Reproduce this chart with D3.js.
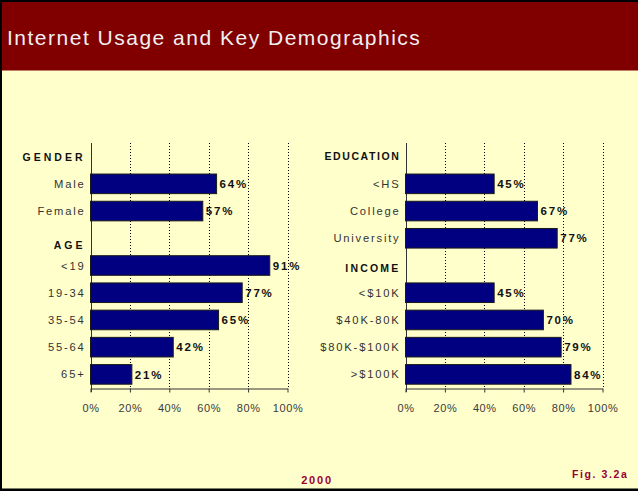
<!DOCTYPE html>
<html>
<head>
<meta charset="utf-8">
<script src="https://cdn.jsdelivr.net/npm/d3@7/dist/d3.min.js"></script>
<style>
  html, body { margin: 0; padding: 0; background: #FFFFCC; }
  svg { display: block; font-family: "Liberation Sans", Arial, Helvetica, sans-serif; }
</style>
</head>
<body>
<svg id="chart" width="638" height="491"></svg>
<script>
// Share of each group using the Internet (%)
const genderCats = ["Male", "Female"];
const genderValues = [64, 57];
const ageCats = ["<19", "19-34", "35-54", "55-64", "65+"];
const ageValues = [91, 77, 65, 42, 21];
const educationCats = ["<HS", "College", "University"];
const educationValues = [45, 67, 77];
const incomeCats = ["<$10K", "$40K-80K", "$80K-$100K", ">$100K"];
const incomeValues = [45, 70, 79, 84];
const tickValues = [0, 20, 40, 60, 80, 100];

const titleText = "Internet Usage and Key Demographics";
const yearText = "2000";
const figText = "Fig. 3.2a";

const W = 638, H = 491;
const svg = d3.select("#chart");

// background and title band
svg.append("rect").attr("width", W).attr("height", H).attr("fill", "#FFFFCC");
svg.append("rect").attr("x", 0).attr("y", 0).attr("width", W).attr("height", 70.5).attr("fill", "#800000");
svg.append("rect").attr("x", 0).attr("y", 0).attr("width", W).attr("height", 2).attr("fill", "#000");
svg.append("rect").attr("x", 0).attr("y", 0).attr("width", 2).attr("height", H).attr("fill", "#000");
svg.append("rect").attr("x", 0).attr("y", H - 2.5).attr("width", W).attr("height", 2.5).attr("fill", "#000");

svg.append("text")
  .attr("x", 7).attr("y", 44.5)
  .attr("fill", "#F0F0F0")
  .attr("font-size", 21)
  .attr("letter-spacing", 1.5)
  .text(titleText);

// build row list for a panel: header rows followed by their categories
function buildRows(groups) {
  const rows = [];
  groups.forEach(g => {
    rows.push({ label: g.header, header: true, nudge: g.nudge, spacing: g.spacing });
    g.cats.forEach((c, i) => rows.push({ label: c, header: false, value: g.values[i] }));
  });
  return rows;
}

function drawPanel(rows, x0, x1) {
  const g = svg.append("g");
  const x = d3.scaleLinear().domain([0, 100]).range([x0, x1]);
  const y = d3.scaleBand()
    .domain(rows.map((r, i) => i))
    .range([143, 388])
    .paddingInner(0.28)
    .paddingOuter(0.14);
  const top = 143, bottom = 388;

  // dotted vertical gridlines
  g.selectAll("line.grid")
    .data(tickValues.filter(t => t > 0))
    .join("line")
    .attr("class", "grid")
    .attr("x1", d => Math.round(x(d)) + 0.5).attr("x2", d => Math.round(x(d)) + 0.5)
    .attr("y1", top).attr("y2", bottom)
    .attr("stroke", "#000")
    .attr("stroke-width", 1)
    .attr("stroke-dasharray", "1,2");

  // bottom axis
  const axis = d3.axisBottom(x)
    .tickValues(tickValues)
    .tickFormat(d => d + "%")
    .tickSize(4)
    .tickSizeOuter(0)
    .tickPadding(12);
  const ax = g.append("g").attr("transform", `translate(0,${bottom + 0.5})`).call(axis);
  ax.select(".domain").attr("stroke", "#333");
  ax.selectAll(".tick line").attr("stroke", "#333");
  ax.selectAll(".tick text")
    .attr("fill", "#3a3a3a")
    .attr("font-size", 11)
    .attr("letter-spacing", 0.6)
    .attr("font-family", "'Liberation Sans', Arial, sans-serif");

  // vertical category axis line
  g.append("line")
    .attr("x1", Math.round(x(0)) + 0.5).attr("x2", Math.round(x(0)) + 0.5)
    .attr("y1", top).attr("y2", bottom + 4)
    .attr("stroke", "#333");

  const dataRows = rows.map((r, i) => Object.assign({ i }, r));

  // bars
  g.selectAll("rect.bar")
    .data(dataRows.filter(r => !r.header))
    .join("rect")
    .attr("class", "bar")
    .attr("x", x(0))
    .attr("y", d => y(d.i))
    .attr("width", d => x(d.value) - x(0))
    .attr("height", y.bandwidth())
    .attr("fill", "#000080")
    .attr("stroke", "#1a1a1a")
    .attr("stroke-width", 1);

  // value labels
  g.selectAll("text.val")
    .data(dataRows.filter(r => !r.header))
    .join("text")
    .attr("class", "val")
    .attr("x", d => x(d.value) + 3)
    .attr("y", d => y(d.i) + y.bandwidth() / 2)
    .attr("dy", "0.36em")
    .attr("font-size", 11.5)
    .attr("font-weight", "bold")
    .attr("letter-spacing", 1.8)
    .attr("fill", "#111")
    .text(d => d.value + "%");

  // category labels
  g.selectAll("text.cat")
    .data(dataRows)
    .join("text")
    .attr("class", "cat")
    .attr("x", x(0) - 5)
    .attr("y", d => y(d.i) + y.bandwidth() / 2 + (d.header ? d.nudge : 0))
    .attr("dy", "0.36em")
    .attr("text-anchor", "end")
    .attr("font-size", d => d.header ? 10.5 : 11.2)
    .attr("font-weight", d => d.header ? "bold" : "normal")
    .attr("letter-spacing", d => d.header ? d.spacing : 1.8)
    .attr("fill", d => d.header ? "#111" : "#333")
    .text(d => d.label);
}

const leftRows = buildRows([
  { header: "GENDER", cats: genderCats, values: genderValues, nudge: 0.5, spacing: 3 },
  { header: "AGE", cats: ageCats, values: ageValues, nudge: 6.5, spacing: 3 }
]);
const rightRows = buildRows([
  { header: "EDUCATION", cats: educationCats, values: educationValues, nudge: -0.5, spacing: 1.6 },
  { header: "INCOME", cats: incomeCats, values: incomeValues, nudge: 2.5, spacing: 2.2 }
]);

drawPanel(leftRows, 90.5, 287.5);
drawPanel(rightRows, 405.5, 602.5);

// footer
svg.append("text")
  .attr("x", 317).attr("y", 483.5)
  .attr("text-anchor", "middle")
  .attr("font-size", 11)
  .attr("font-weight", "bold")
  .attr("letter-spacing", 1.8)
  .attr("fill", "#990033")
  .text(yearText);

svg.append("text")
  .attr("x", 572).attr("y", 478)
  .attr("font-size", 10.5)
  .attr("font-weight", "bold")
  .attr("letter-spacing", 1.6)
  .attr("fill", "#990033")
  .text(figText);
</script>
</body>
</html>
